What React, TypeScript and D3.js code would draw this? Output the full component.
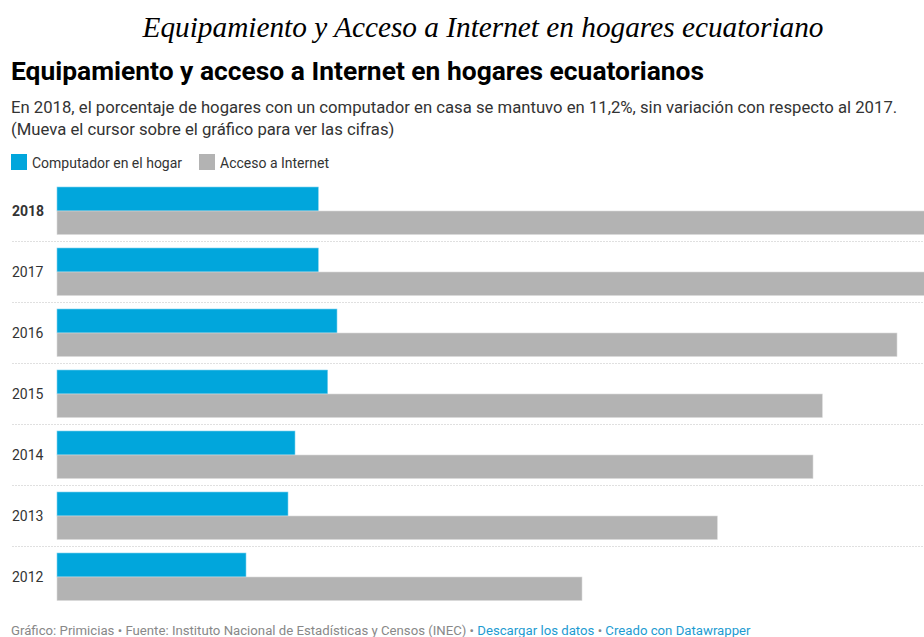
import React from "react";
import * as d3 from "d3";

const years = ["2018", "2017", "2016", "2015", "2014", "2013", "2012"];
const computador = [11.2, 11.2, 12.0, 11.6, 10.2, 9.9, 8.1];
const internet = [37.2, 37.2, 36.0, 32.8, 32.4, 28.3, 22.5];
const seriesNames = ["Computador en el hogar", "Acceso a Internet"];
const seriesColors = ["#01a6dc", "#b3b3b3"];

const W = 924;
const H = 637;

export default function App() {
  const x = d3.scaleLinear().domain([0, 37.2]).range([57, 925]);
  const y = d3.scaleBand().domain(years).range([187, 187 + 61 * 7]).paddingInner(0).paddingOuter(0);
  const barH = 23.5;
  const font = "Roboto, 'Noto Sans', sans-serif";

  return (
    <svg width={W} height={H} style={{ position: "absolute", left: 0, top: 0, background: "#fff" }}>
      <text x={483} y={37} textAnchor="middle" fontFamily="'Liberation Serif', 'Times New Roman', serif" fontStyle="italic" fontSize={29.3} fill="#000">
        Equipamiento y Acceso a Internet en hogares ecuatoriano
      </text>
      <text x={11} y={80} fontFamily={font} fontWeight="bold" fontSize={26.3} fill="#000" textLength={693} lengthAdjust="spacingAndGlyphs">
        Equipamiento y acceso a Internet en hogares ecuatorianos
      </text>
      <text x={11} y={113} fontFamily={font} fontSize={16.7} fill="#333">
        En 2018, el porcentaje de hogares con un computador en casa se mantuvo en 11,2%, sin variación con respecto al 2017.
      </text>
      <text x={11} y={135} fontFamily={font} fontSize={16.7} fill="#333">
        (Mueva el cursor sobre el gráfico para ver las cifras)
      </text>
      {seriesNames.map((n, i) => {
        const lx = i === 0 ? 11 : 199;
        return (
          <g key={n}>
            <rect x={lx} y={154} width={16} height={16} fill={seriesColors[i]} />
            <text x={lx + 21} y={168} fontFamily={font} fontSize={14} fill="#333">
              {n}
            </text>
          </g>
        );
      })}
      {years.map((yr, i) => {
        const top = y(yr)!;
        return (
          <g key={yr}>
            {i > 0 && (
              <line x1={12} x2={W} y1={top - 6.5} y2={top - 6.5} stroke="#e0e0e0" strokeWidth={1} strokeDasharray="2,1" />
            )}
            <text x={12} y={top + 29} fontFamily={font} fontSize={14} fontWeight={i === 0 ? "bold" : "normal"} fill="#333">
              {yr}
            </text>
            <rect x={x(0)} y={top} width={x(computador[i]) - x(0)} height={24} fill={seriesColors[0]} stroke="#7fd2ed" strokeWidth={0.6} />
            <rect x={x(0)} y={top + 24} width={x(internet[i]) - x(0)} height={barH} fill={seriesColors[1]} stroke="#d9d9d9" strokeWidth={0.6} />
          </g>
        );
      })}
      <text x={11} y={635} fontFamily={font} fontSize={13.2} fill="#888">
        <tspan>Gráfico: Primicias • Fuente: Instituto Nacional de Estadísticas y Censos (INEC) • </tspan>
        <tspan fill="#1d9bd1">Descargar los datos</tspan>
        <tspan> • </tspan>
        <tspan fill="#1d9bd1">Creado con Datawrapper</tspan>
      </text>
    </svg>
  );
}
